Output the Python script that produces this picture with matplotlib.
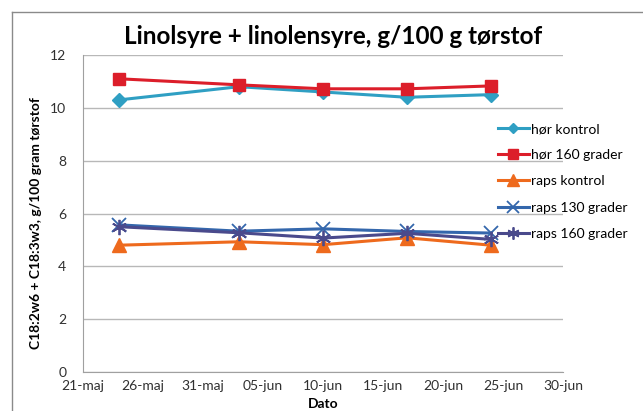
import numpy as np
import pandas as pd
import matplotlib
matplotlib.use("Agg")
import matplotlib.pyplot as plt
import matplotlib.dates as mdates
from matplotlib.lines import Line2D

plt.rcParams['font.family'] = ['Lato', 'DejaVu Sans']

# data
dates = pd.to_datetime(['2012-05-24', '2012-06-03', '2012-06-10', '2012-06-17', '2012-06-24'])
hor_kontrol = [10.3, 10.8, 10.6, 10.4, 10.5]
hor_160 = [11.1, 10.87, 10.72, 10.72, 10.83]
raps_kontrol = [4.8, 4.93, 4.82, 5.08, 4.8]
raps_130 = [5.57, 5.33, 5.42, 5.32, 5.26]
raps_160 = [5.5, 5.27, 5.07, 5.25, 5.02]

tick_dates = pd.date_range('2012-05-21', '2012-06-30', freq='5D')
tick_labels = ['21-maj', '26-maj', '31-maj', '05-jun', '10-jun',
               '15-jun', '20-jun', '25-jun', '30-jun']
ytick_vals = [0, 2, 4, 6, 8, 10, 12]

W, H = 643, 411
fig = plt.figure(figsize=(W / 100, H / 100), dpi=100)
ax = fig.add_axes([83 / W, 1 - 372 / H, 480 / W, 317 / H])

series = [
    (hor_kontrol, 'hør kontrol', '#2f9fc3', dict(marker='D', ms=7, mec='#2f9fc3')),
    (hor_160, 'hør 160 grader', '#dc1e2a', dict(marker='s', ms=9, mec='#dc1e2a')),
    (raps_kontrol, 'raps kontrol', '#ee6a1d', dict(marker='^', ms=10, mec='#ee6a1d')),
    (raps_130, 'raps 130 grader', '#3467ac', dict(marker='x', ms=10, mew=1.3)),
    (raps_160, 'raps 160 grader', '#4a4a8c', dict(marker=(6, 2, 0), ms=11, mew=1.3)),
]
for vals, lab, col, mk in series:
    ax.plot(dates, vals, color=col, lw=2.2, label=lab, zorder=3, **mk)

ax.set_xlim(tick_dates[0], tick_dates[-1])
ax.set_ylim(0, 12)
ax.set_xticks(tick_dates)
ax.set_xticklabels(tick_labels)
ax.set_yticks(ytick_vals)
ax.grid(axis='y', color='#b8b8b8', lw=1)
ax.set_axisbelow(True)
ax.tick_params(length=0, labelsize=10, colors='#303030', pad=6)
ax.tick_params(axis='y', pad=12)
for s in ['top', 'right']:
    ax.spines[s].set_visible(False)
for s in ['left', 'bottom']:
    ax.spines[s].set_color('#a0a0a0')

ax.set_ylabel('C18:2w6 + C18:3w3, g/100 gram tørstof', fontsize=10, fontweight='bold')
ax.yaxis.set_label_coords(-0.085, 0.47)
ax.set_xlabel('Dato', fontsize=10, fontweight='bold', va='bottom')
ax.xaxis.set_label_coords(0.5, (372 - 410) / 317)

fig.text(333 / W, 1 - 36 / H, 'Linolsyre + linolensyre, g/100 g tørstof',
         ha='center', va='center', fontsize=17.5, fontweight='bold')

leg = ax.legend(loc='upper left', bbox_to_anchor=(498 / W, 1 - 123 / H),
                bbox_transform=fig.transFigure, frameon=False, fontsize=10,
                borderpad=0, borderaxespad=0, handlelength=2.2,
                handletextpad=0.15, labelspacing=1.02, markerscale=0.8)

# chart border (cropped)
fig.add_artist(Line2D([12 / W, 12 / W], [0, 1 - 12 / H], color='#8a8a8a', lw=1))
fig.add_artist(Line2D([12 / W, 1], [1 - 12 / H, 1 - 12 / H], color='#8a8a8a', lw=1))

fig.savefig('out.png', dpi=100)
